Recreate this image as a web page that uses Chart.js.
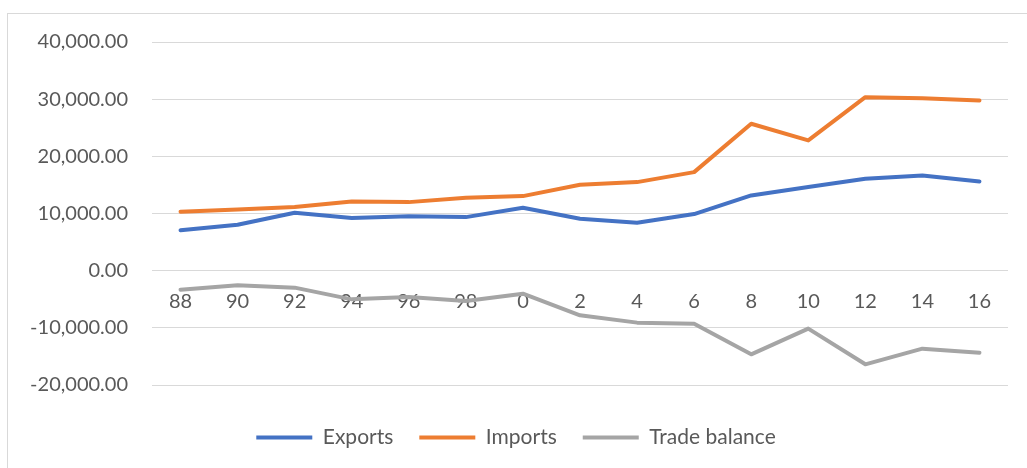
<!DOCTYPE html>
<html>
<head>
<meta charset="utf-8">
<script src="https://cdn.jsdelivr.net/npm/chart.js@4/dist/chart.umd.min.js"></script>
<style>
  html, body { margin: 0; padding: 0; background: #ffffff; overflow: hidden; }
  #wrap { position: relative; width: 1027px; height: 468px; }
  #frame { position: absolute; left: 7px; top: 13px; width: 1040px; height: 480px; border: 1px solid #D9D9D9; box-sizing: border-box; }
  canvas { position: absolute; left: 0; top: 0; }
</style>
</head>
<body>
<div id="wrap">
  <div id="frame"></div>
  <canvas id="c" width="1027" height="468"></canvas>
</div>
<script>
const categories = ["88","90","92","94","96","98","0","2","4","6","8","10","12","14","16"];
const exportsData = [7050, 8040, 10140, 9200, 9500, 9370, 11000, 9090, 8390, 9900, 13160, 14620, 16080, 16660, 15610];
const importsData = [10310, 10720, 11120, 12110, 11990, 12760, 13040, 15030, 15490, 17240, 25700, 22780, 30350, 30170, 29770];
const tradeBalance = [-3320, -2570, -2970, -5020, -4620, -5310, -4020, -7810, -9090, -9270, -14630, -10140, -16380, -13640, -14340];
const yTicks = [-20000, -10000, 0, 10000, 20000, 30000, 40000];

const FONT = "Lato, 'Open Sans', 'Liberation Sans', sans-serif";
const TXT = "#595959";

function ds(label, data, color) {
  return {
    label, data,
    borderColor: color, backgroundColor: color,
    borderWidth: 4, pointRadius: 0, pointHoverRadius: 0,
    borderCapStyle: 'round', borderJoinStyle: 'round',
    tension: 0, fill: false
  };
}

new Chart(document.getElementById('c'), {
  type: 'line',
  data: {
    labels: categories,
    datasets: [
      ds('Exports', exportsData, '#4472C4'),
      ds('Imports', importsData, '#ED7D31'),
      ds('Trade balance', tradeBalance, '#A5A5A5')
    ]
  },
  options: {
    responsive: false,
    animation: false,
    events: [],
    layout: { padding: { top: 42, right: 19, bottom: 10, left: 24 } },
    plugins: {
      tooltip: { enabled: false },
      legend: {
        position: 'bottom',
        title: { display: true, text: '', font: { size: 10 }, padding: { top: 2, bottom: 2 } },
        labels: {
          font: { family: FONT, size: 21 },
          color: TXT,
          boxWidth: 56,
          boxHeight: 4,
          padding: 26,
          generateLabels(chart) {
            return chart.data.datasets.map((d, i) => ({
              text: d.label, fillStyle: d.borderColor, strokeStyle: d.borderColor,
              lineWidth: 0, hidden: false, datasetIndex: i, fontColor: TXT
            }));
          }
        }
      }
    },
    scales: {
      x: {
        type: 'category',
        position: { y: 0 },
        offset: true,
        grid: { display: false, drawTicks: false },
        border: { display: false },
        ticks: { font: { family: FONT, size: 20 }, color: TXT, padding: 19, maxRotation: 0, autoSkip: false }
      },
      y: {
        min: -20000, max: 40000,
        afterBuildTicks(scale) { scale.ticks = yTicks.map(v => ({ value: v })); },
        afterFit(scale) { scale.width = 128; },
        grid: { color: '#D9D9D9', lineWidth: 1, drawTicks: false },
        border: { display: false },
        ticks: {
          font: { family: FONT, size: 20 }, color: TXT, padding: 24,
          callback(v) { return Number(v).toLocaleString('en-US', { minimumFractionDigits: 2, maximumFractionDigits: 2 }); }
        }
      }
    }
  }
});
</script>
</body>
</html>
